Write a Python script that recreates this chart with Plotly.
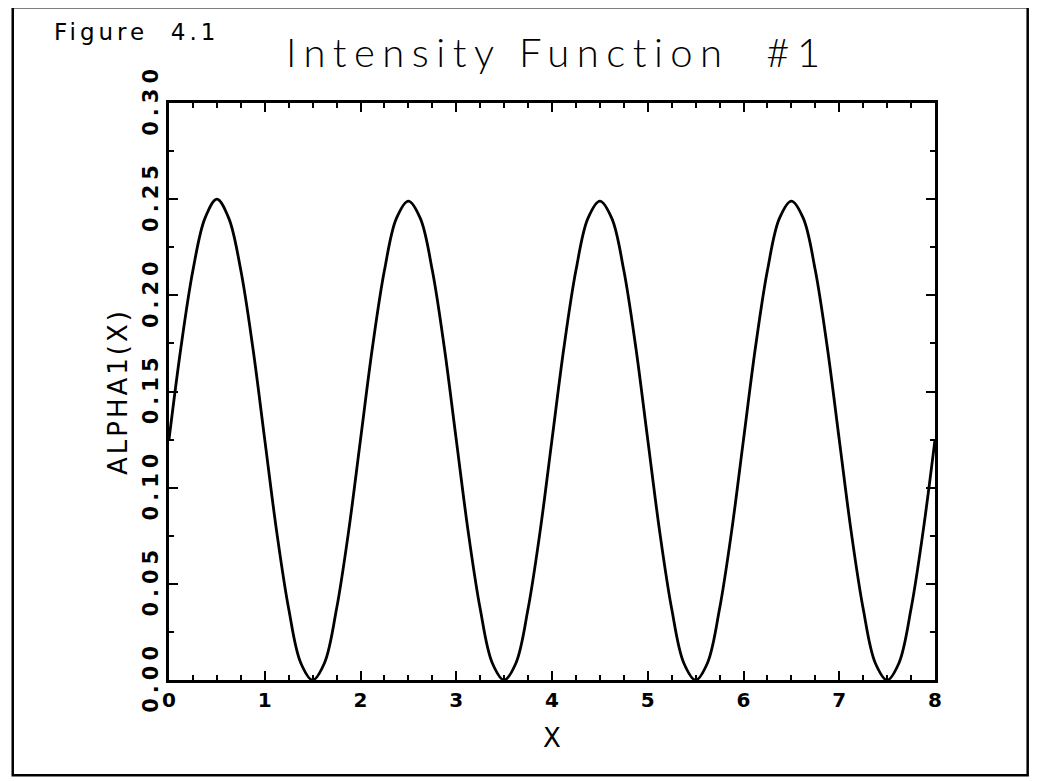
"""
Figure 4.1 - Intensity Function #1
"""

import plotly.graph_objects as go

# valores (passo de 0.125 em X)
x_vals = [i * 0.125 for i in range(65)]
alpha1 = [
    0.125, 0.173, 0.213, 0.240, 0.250, 0.240, 0.213, 0.173,
    0.125, 0.077, 0.037, 0.009, 0.000, 0.009, 0.037, 0.077,
    0.125, 0.173, 0.213, 0.240, 0.249, 0.240, 0.213, 0.173,
    0.125, 0.077, 0.037, 0.009, 0.000, 0.009, 0.037, 0.077,
    0.125, 0.173, 0.213, 0.240, 0.249, 0.240, 0.213, 0.173,
    0.125, 0.077, 0.037, 0.009, 0.000, 0.009, 0.037, 0.077,
    0.125, 0.173, 0.213, 0.240, 0.249, 0.240, 0.213, 0.173,
    0.125, 0.077, 0.037, 0.009, 0.000, 0.009, 0.037, 0.077,
    0.125,
]
x_ticks = [0, 1, 2, 3, 4, 5, 6, 7, 8]
y_ticks = [0.00, 0.05, 0.10, 0.15, 0.20, 0.25, 0.30]

FONTE = "DejaVu Sans"


def espacado(txt, px):
    # imita o espaçamento largo da fonte de plotter
    return f'<span style="letter-spacing:{px}px">{txt}</span>'


fig = go.Figure()

fig.add_trace(go.Scatter(
    x=x_vals, y=alpha1,
    mode="lines",
    line=dict(color="black", width=2.8, shape="spline", smoothing=1.0),
    showlegend=False,
    hoverinfo="skip"
))

eixo = dict(
    showline=True, linecolor="black", linewidth=3,
    mirror="ticks", ticks="inside", tickcolor="black",
    ticklen=9, tickwidth=2,
    showgrid=False, zeroline=False,
)

fig.update_xaxes(
    **eixo,
    range=[0, 8],
    tickvals=x_ticks,
    ticktext=[str(t) for t in x_ticks],
    tickfont=dict(family=FONTE, size=20, color="black", weight="bold"),
    minor=dict(dtick=0.25, ticks="inside", ticklen=5, tickwidth=2, tickcolor="black"),
    title=dict(text="X", font=dict(family=FONTE, size=26, color="black"), standoff=18),
)

fig.update_yaxes(
    **eixo,
    range=[0, 0.30],
    tickvals=y_ticks,
    ticktext=[espacado(f"{t:.2f}", 5) for t in y_ticks],
    tickangle=-90,
    tickfont=dict(family=FONTE, size=21, color="black", weight="bold"),
    minor=dict(dtick=0.025, ticks="inside", ticklen=5, tickwidth=2, tickcolor="black"),
    title=dict(text=espacado("ALPHA1(X)", 3), font=dict(family=FONTE, size=26, color="black"), standoff=4),
)

# moldura externa da figura
fig.add_shape(type="rect", xref="paper", yref="paper",
              x0=-0.204, x1=1.121, y0=-0.165, y1=1.166,
              line=dict(color="black", width=2.5))

fig.add_annotation(text=espacado("Figure  4.1", 4), xref="paper", yref="paper",
                   x=-0.043, y=1.123, showarrow=False,
                   xanchor="center", yanchor="middle",
                   font=dict(family=FONTE, size=23, color="black"))

fig.add_annotation(text=espacado("Intensity Function  #1", 7.5), xref="paper", yref="paper",
                   x=0.507, y=1.088, showarrow=False,
                   xanchor="center", yanchor="middle",
                   font=dict(family="Lato", size=40, color="black", weight=300))

# o corpo da página desloca tudo 8 px; as margens compensam
fig.update_layout(
    width=1039, height=781,
    margin=dict(l=161, r=112, t=95, b=109),
    paper_bgcolor="white",
    plot_bgcolor="white",
)

fig.write_html("out.html")
